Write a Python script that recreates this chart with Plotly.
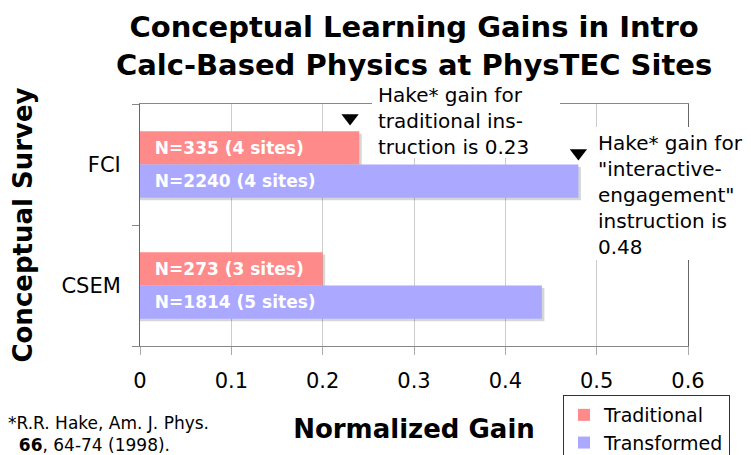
import plotly.graph_objects as go

categories = ["FCI", "CSEM"]
traditional_gain = [0.24, 0.20]
transformed_gain = [0.48, 0.44]
traditional_labels = ["N=335 (4 sites)", "N=273 (3 sites)"]
transformed_labels = ["N=2240 (4 sites)", "N=1814 (5 sites)"]
hake_gains = [0.23, 0.48]
x_ticks = [0, 0.1, 0.2, 0.3, 0.4, 0.5, 0.6]

FONT = "DejaVu Sans"
pos = list(range(len(categories)))

# The page body has an 8px default margin; size the figure to fit the window.
OFF = 8
W, H = 751 - OFF, 455 - OFF

BAR_W = 0.275          # bar thickness in category units
SH_X = 0.6 / 548 * 2.5  # ~2.5px drop shadow, horizontal
SH_Y = 2.5 / 121.0      # ~2.5px drop shadow, vertical

fig = go.Figure()
# soft drop shadows behind the bars
for vals, off in ((traditional_gain, -BAR_W), (transformed_gain, 0.0)):
    fig.add_trace(go.Bar(
        y=pos, x=[v + SH_X for v in vals], orientation="h",
        width=BAR_W, offset=off + SH_Y,
        marker=dict(color="rgba(0,0,0,0.16)", line=dict(width=0)),
        showlegend=False, hoverinfo="skip",
    ))
fig.add_trace(go.Bar(
    name="Traditional", y=pos, x=traditional_gain, orientation="h",
    width=BAR_W, offset=-BAR_W,
    marker=dict(color="#ff8a8a", line=dict(width=0)),
    text=traditional_labels, texttemplate="\u00a0\u00a0%{text}",
    textposition="inside", insidetextanchor="start", textangle=0,
    constraintext="none",
    textfont=dict(family=FONT, size=17, color="white", weight="bold"),
    hoverinfo="skip",
))
fig.add_trace(go.Bar(
    name="Transformed", y=pos, x=transformed_gain, orientation="h",
    width=BAR_W, offset=0.0,
    marker=dict(color="#aaa8ff", line=dict(width=0)),
    text=transformed_labels, texttemplate="\u00a0\u00a0%{text}",
    textposition="inside", insidetextanchor="start", textangle=0,
    constraintext="none",
    textfont=dict(family=FONT, size=17, color="white", weight="bold"),
    hoverinfo="skip",
))
# Hake reference markers (above FCI bars)
fig.add_trace(go.Scatter(
    x=hake_gains, y=[pos[0] - 0.385, pos[0] - 0.095], mode="markers",
    marker=dict(symbol="triangle-down", size=15, color="black"),
    showlegend=False, hoverinfo="skip", cliponaxis=False,
))

# page-pixel -> paper coords (plot area spans x 140..688, y 104..346 on the page)
def px_x(p):
    return (p - 140) / 548.0

def px_y(p):
    return (346 - p) / 242.0

shapes = [
    dict(type="rect", xref="paper", yref="paper", layer="above",
         x0=px_x(372), x1=px_x(560), y0=px_y(158), y1=px_y(84),
         fillcolor="white", line=dict(width=0)),
    dict(type="rect", xref="paper", yref="paper", layer="above",
         x0=px_x(590), x1=px_x(760), y0=px_y(260), y1=px_y(127),
         fillcolor="white", line=dict(width=0)),
]

annotations = [
    dict(xref="paper", yref="paper", x=0.5, y=px_y(8),
         xanchor="center", yanchor="top", align="center", showarrow=False,
         text="<b>Conceptual Learning Gains in Intro<br>Calc-Based Physics at PhysTEC Sites</b>",
         font=dict(family=FONT, size=29, color="black")),
    dict(xref="paper", yref="paper", x=px_x(376), y=px_y(81),
         xanchor="left", yanchor="top", align="left", showarrow=False,
         text="Hake* gain for<br>traditional ins-<br>truction is 0.23",
         font=dict(family=FONT, size=20, color="black")),
    dict(xref="paper", yref="paper", x=px_x(596), y=px_y(129),
         xanchor="left", yanchor="top", align="left", showarrow=False,
         text="Hake* gain for<br>\"interactive-<br>engagement\"<br>instruction is<br>0.48",
         font=dict(family=FONT, size=20, color="black")),
    dict(xref="paper", yref="paper", x=px_x(6), y=px_y(411),
         xanchor="left", yanchor="top", align="left", showarrow=False,
         text="*R.R. Hake, Am. J. Phys.<br>\u00a0\u00a0<b>66</b>, 64-74 (1998).",
         font=dict(family=FONT, size=17, color="black")),
]

fig.update_layout(
    width=W, height=H,
    margin=dict(l=140 - OFF, r=751 - 688, t=104 - OFF, b=455 - 346, autoexpand=False),
    paper_bgcolor="white", plot_bgcolor="white",
    barmode="overlay",
    font=dict(family=FONT, color="black"),
    xaxis=dict(
        range=[0, 0.6], tickmode="array", tickvals=x_ticks, automargin=False,
        showgrid=True, gridcolor="#cccccc", gridwidth=1,
        zeroline=False, showline=True, linecolor="#888888", linewidth=1, mirror=True,
        ticks="outside", ticklen=8, tickcolor="#aaaaaa",
        tickfont=dict(family=FONT, size=21, color="black"),
        ticklabelstandoff=8,
        title=dict(text="Normalized Gain", standoff=27,
                   font=dict(family=FONT, size=26, color="black", weight="bold")),
    ),
    yaxis=dict(
        range=[1.5, -0.5], tickmode="array", tickvals=pos, ticktext=categories,
        automargin=False,
        showgrid=False, zeroline=False, showline=True, linecolor="#666666",
        linewidth=1, mirror=True, ticks="",
        tickfont=dict(family=FONT, size=21, color="black"),
        ticklabelstandoff=14,
        minor=dict(tickmode="array", tickvals=[-0.5, 0.5, 1.5], ticks="outside",
                   ticklen=7, tickcolor="#888888", showgrid=False),
        title=dict(text="Conceptual Survey", standoff=23,
                   font=dict(family=FONT, size=26, color="black", weight="bold")),
    ),
    legend=dict(
        x=px_x(563), y=px_y(395), xanchor="left", yanchor="top",
        bgcolor="white", bordercolor="#333333", borderwidth=1,
        font=dict(family=FONT, size=19, color="black"),
        traceorder="normal", itemwidth=30,
    ),
    shapes=shapes,
    annotations=annotations,
)

fig.write_html("out.html")
